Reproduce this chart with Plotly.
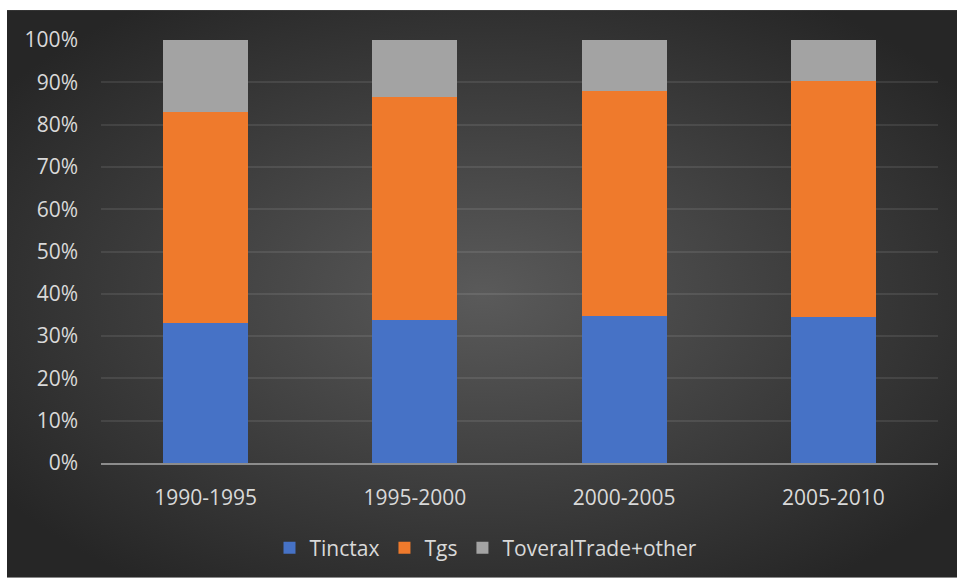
import base64
import plotly.graph_objects as go

categories = ["1990-1995", "1995-2000", "2000-2005", "2005-2010"]
tinctax = [0.330, 0.337, 0.347, 0.345]
tgs = [0.500, 0.529, 0.533, 0.558]
other = [0.170, 0.134, 0.120, 0.097]
y_ticks = [i / 10 for i in range(11)]
y_tick_labels = [f"{i * 10}%" for i in range(11)]

FONT = "Open Sans"
TXT = "#d9d9d9"

svg = (
    '<svg xmlns="http://www.w3.org/2000/svg" width="950" height="569" '
    'viewBox="0 0 950 569" preserveAspectRatio="none">'
    '<defs><radialGradient id="g" cx="0.5" cy="0.5" r="0.62">'
    '<stop offset="0" stop-color="#5a5a5a"/>'
    '<stop offset="1" stop-color="#262626"/>'
    '</radialGradient></defs>'
    '<rect x="0" y="0" width="950" height="569" fill="url(#g)"/></svg>'
)
bg_uri = "data:image/svg+xml;base64," + base64.b64encode(svg.encode()).decode()

fig = go.Figure()
fig.add_bar(name="Tinctax", x=categories, y=tinctax, marker=dict(color="#4672c6", line=dict(width=0)))
fig.add_bar(name="Tgs", x=categories, y=tgs, marker=dict(color="#ef7a2c", line=dict(width=0)))
fig.add_bar(name="ToveralTrade+other", x=categories, y=other, marker=dict(color="#a3a3a3", line=dict(width=0)))

W, H = 957, 579
L, R, T, B = 101, 19, 40, 115
pw, ph = W - L - R, H - T - B

fig.add_layout_image(
    source=bg_uri, xref="paper", yref="paper",
    x=(7 - L) / pw, y=(H - B - 10) / ph,
    sizex=(W - 7) / pw, sizey=(H - 10) / ph,
    xanchor="left", yanchor="top", sizing="stretch", layer="below",
)

fig.update_layout(
    width=W, height=H,
    margin=dict(l=L, r=R, t=T, b=B),
    barmode="stack",
    bargap=0.593,
    paper_bgcolor="white",
    plot_bgcolor="rgba(0,0,0,0)",
    font=dict(family=FONT, size=21, color=TXT),
    showlegend=True,
    legend=dict(
        orientation="h", x=(486 - L) / pw, xanchor="center",
        y=-(548 - (H - B)) / ph, yanchor="middle",
        font=dict(family=FONT, size=21, color=TXT),
        bgcolor="rgba(0,0,0,0)", traceorder="normal",
        itemwidth=30,
    ),
    xaxis=dict(
        showgrid=False, showline=True, linecolor="#8c8c8c", linewidth=2,
        ticks="", ticklabelstandoff=15,
        tickfont=dict(family=FONT, size=21, color=TXT),
    ),
    yaxis=dict(
        range=[0, 1], tickvals=y_ticks, ticktext=y_tick_labels,
        showgrid=True, gridcolor="rgba(255,255,255,0.09)", gridwidth=2,
        zeroline=False, showline=False, ticks="", ticklabelstandoff=22,
        tickfont=dict(family=FONT, size=21, color=TXT),
    ),
)

fig.write_html("out.html")
